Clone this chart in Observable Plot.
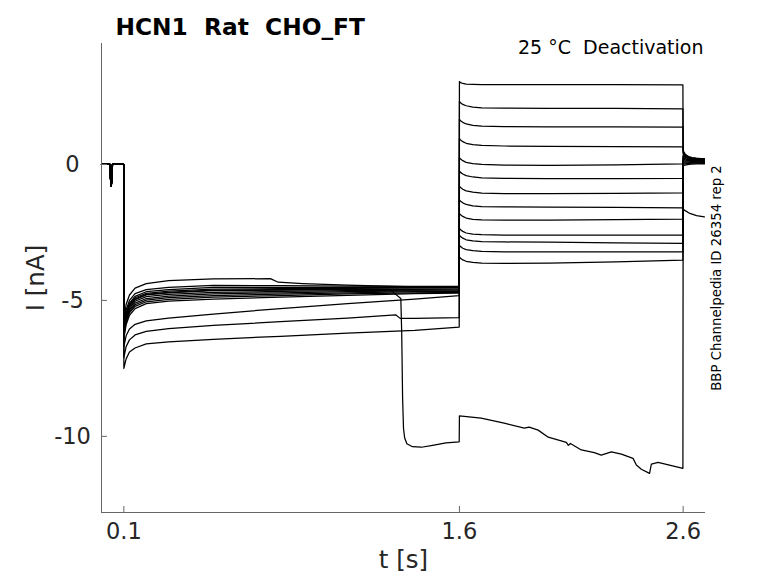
<!DOCTYPE html>
<html><head><meta charset="utf-8">
<script src="https://cdn.jsdelivr.net/npm/d3@7"></script>
<script src="https://cdn.jsdelivr.net/npm/@observablehq/plot@0.6"></script>
<style>
body{margin:0;background:#fff}
svg text{white-space:pre}
</style>
</head><body><div id="chart"></div>
<script>
// ---- axes / labels ----
const xTicks = [0.1, 1.6, 2.6];
const yTicks = [0, -5, -10];
const xDomain = [0, 2.7];
const yDomain = [-12.8, 4.45];
const titleText = "HCN1  Rat  CHO_FT";
const condText = "25 °C  Deactivation";
const idText = "BBP Channelpedia ID 26354 rep 2";

// ---- holding segment (shared by all sweeps) ----
const holdT = [0, 0.038, 0.040, 0.0435, 0.047, 0.049, 0.0999];
const holdI = [0, 0, -0.5, -0.8, -0.5, 0, 0];

// ---- first step (0.1 s .. 1.6 s), regular sweeps ----
const step1T = [0.1, 0.11, 0.125, 0.15, 0.2, 0.3, 0.5, 0.8, 1.1, 1.4, 1.599];
const c1 = [-5.9,-5.35,-5.0,-4.75,-4.6,-4.52,-4.45,-4.46,-4.47,-4.48,-4.48];
const c2 = [-6.0,-5.45,-5.1,-4.85,-4.68,-4.6,-4.52,-4.52,-4.52,-4.52,-4.52];
const c3 = [-6.05,-5.5,-5.15,-4.9,-4.74,-4.66,-4.58,-4.57,-4.56,-4.55,-4.55];
const c4 = [-6.1,-5.58,-5.22,-4.97,-4.8,-4.72,-4.64,-4.62,-4.6,-4.59,-4.58];
const c5 = [-6.15,-5.62,-5.28,-5.03,-4.86,-4.78,-4.7,-4.67,-4.64,-4.62,-4.61];
const c6 = [-6.2,-5.7,-5.35,-5.1,-4.93,-4.84,-4.76,-4.72,-4.68,-4.65,-4.64];
const c7 = [-6.25,-5.75,-5.4,-5.16,-4.99,-4.9,-4.82,-4.77,-4.72,-4.68,-4.67];
const c8 = [-6.3,-5.8,-5.46,-5.22,-5.05,-4.96,-4.88,-4.82,-4.76,-4.72,-4.7];
const c9 = [-6.4,-5.9,-5.55,-5.3,-5.12,-5.03,-4.95,-4.88,-4.81,-4.75,-4.73];
const low1 = [-6.7,-6.3,-6.05,-5.88,-5.75,-5.65,-5.5,-5.3,-5.12,-4.95,-4.82];
const low3 = [-7.5,-7.15,-6.9,-6.75,-6.6,-6.52,-6.43,-6.32,-6.2,-6.1,-5.98];

// first step, sweeps with their own events
const topT = [0.1,0.11,0.125,0.15,0.2,0.3,0.5,0.755,0.79,0.9,1.1,1.4,1.599];
const topI = [-5.75,-5.15,-4.8,-4.55,-4.38,-4.27,-4.21,-4.2,-4.33,-4.38,-4.44,-4.5,-4.52];
const kinkT = [0.1,0.11,0.125,0.15,0.2,0.3,0.5,0.8,1.1,1.315,1.335,1.4,1.599];
const kinkI = [-7.1,-6.7,-6.45,-6.27,-6.14,-6.04,-5.92,-5.78,-5.65,-5.53,-5.66,-5.66,-5.63];
const dropT = [0.1,0.11,0.125,0.15,0.2,0.3,0.5,0.8,1.1,1.29,1.31,1.338,1.342,1.346,1.35,1.355,1.365,1.39,1.43,1.48,1.54,1.599];
const dropI = [-6.1,-5.56,-5.2,-4.95,-4.78,-4.7,-4.62,-4.6,-4.58,-4.6,-4.74,-4.93,-6.2,-8.6,-9.7,-10.05,-10.27,-10.38,-10.4,-10.33,-10.24,-10.2];

// ---- second step (1.6 s .. 2.6 s) ----
const step2T = [1.6, 1.605, 1.615, 1.63, 1.66, 1.7, 1.8, 2.0, 2.3, 2.599];
const s1 = [3.05, 3.01, 2.98, 2.96, 2.95, 2.94, 2.94, 2.94, 2.94, 2.93];
const s2 = [2.32, 2.27, 2.21, 2.16, 2.11, 2.08, 2.07, 2.06, 2.06, 2.05];
const s3 = [1.66, 1.61, 1.55, 1.49, 1.44, 1.41, 1.39, 1.38, 1.38, 1.37];
const s4 = [0.95, 0.9, 0.84, 0.78, 0.73, 0.70, 0.68, 0.67, 0.66, 0.65];
const s5 = [0.25, 0.2, 0.14, 0.08, 0.03, 0.0, -0.02, -0.03, -0.01, 0.02];
const s6 = [-0.24, -0.29, -0.35, -0.41, -0.46, -0.49, -0.51, -0.52, -0.52, -0.51];
const s7 = [-0.8, -0.85, -0.91, -0.97, -1.02, -1.05, -1.07, -1.07, -1.06, -1.04];
const s8 = [-1.3, -1.35, -1.41, -1.47, -1.52, -1.55, -1.56, -1.57, -1.58, -1.6];
const s9 = [-1.8, -1.85, -1.91, -1.97, -2.02, -2.04, -2.05, -2.05, -2.03, -2.01];
const s10 = [-2.35, -2.4, -2.46, -2.52, -2.56, -2.58, -2.6, -2.6, -2.6, -2.6];
const s11 = [-2.6, -2.65, -2.71, -2.77, -2.81, -2.84, -2.85, -2.86, -2.88, -2.9];
const s12 = [-2.97, -3.02, -3.08, -3.13, -3.17, -3.2, -3.21, -3.21, -3.21, -3.21];
const s13 = [-3.4, -3.45, -3.51, -3.56, -3.6, -3.63, -3.64, -3.63, -3.58, -3.52];
const drop2T = [1.6,1.697,1.8,1.89,1.912,1.952,1.997,2.078,2.087,2.096,2.145,2.203,2.234,2.279,2.324,2.376,2.391,2.413,2.45,2.458,2.488,2.599];
const drop2I = [-9.25,-9.33,-9.51,-9.7,-9.66,-9.77,-10.03,-10.22,-10.33,-10.26,-10.5,-10.6,-10.69,-10.57,-10.65,-10.81,-11.05,-11.21,-11.36,-11.02,-10.96,-11.18];

// ---- tail after 2.6 s ----
const tailT = [2.6, 2.603, 2.608, 2.615, 2.625, 2.64, 2.66, 2.68, 2.695];
const t1 = [0.55, 0.47, 0.4, 0.34, 0.29, 0.25, 0.23, 0.22, 0.22];
const t2 = [0.5, 0.43, 0.37, 0.32, 0.27, 0.24, 0.22, 0.21, 0.2];
const t3 = [0.45, 0.39, 0.34, 0.29, 0.25, 0.22, 0.2, 0.19, 0.19];
const t4 = [0.4, 0.35, 0.3, 0.26, 0.23, 0.2, 0.19, 0.18, 0.17];
const t5 = [0.35, 0.31, 0.27, 0.24, 0.21, 0.19, 0.17, 0.16, 0.16];
const t6 = [0.3, 0.27, 0.24, 0.21, 0.19, 0.17, 0.16, 0.15, 0.14];
const t7 = [0.25, 0.23, 0.21, 0.19, 0.17, 0.15, 0.14, 0.13, 0.13];
const t8 = [0.2, 0.19, 0.17, 0.16, 0.15, 0.13, 0.12, 0.12, 0.11];
const t9 = [0.15, 0.14, 0.13, 0.13, 0.12, 0.11, 0.1, 0.1, 0.1];
const t10 = [0.1, 0.1, 0.1, 0.1, 0.09, 0.09, 0.09, 0.08, 0.08];
const t11 = [0.05, 0.05, 0.06, 0.06, 0.06, 0.07, 0.07, 0.06, 0.06];
const t12 = [0.0, 0.01, 0.02, 0.03, 0.04, 0.05, 0.05, 0.05, 0.04];
const t13 = [-0.04, -0.03, -0.02, -0.01, 0.0, 0.01, 0.02, 0.02, 0.02];
const drop3T = [2.6, 2.63, 2.66, 2.695];
const drop3I = [-1.65, -1.8, -1.88, -1.93];

// ---- assemble sweeps ----
const sweeps = [
  [[topT, topI], [step2T, s1], [tailT, t1]],
  [[step1T, c1], [step2T, s2], [tailT, t2]],
  [[step1T, c2], [step2T, s3], [tailT, t3]],
  [[step1T, c3], [step2T, s4], [tailT, t4]],
  [[step1T, c4], [step2T, s5], [tailT, t5]],
  [[step1T, c5], [step2T, s6], [tailT, t6]],
  [[step1T, c6], [step2T, s7], [tailT, t7]],
  [[step1T, c7], [step2T, s8], [tailT, t8]],
  [[step1T, c8], [step2T, s9], [tailT, t9]],
  [[step1T, c9], [step2T, s10], [tailT, t10]],
  [[step1T, low1], [step2T, s11], [tailT, t11]],
  [[kinkT, kinkI], [step2T, s12], [tailT, t12]],
  [[step1T, low3], [step2T, s13], [tailT, t13]],
  [[dropT, dropI], [drop2T, drop2I], [drop3T, drop3I]]
];
const points = [];
sweeps.forEach((segs, k) => {
  [[holdT, holdI], ...segs].forEach(([ts, vs]) => {
    ts.forEach((t, i) => points.push({sweep: k, t, I: vs[i]}));
  });
});

const frameW = 778 - 101 - 73, frameH = 583 - 43 - 71;
const axisColor = "#666";
const textColor = "#262626";

const chart = Plot.plot({
  width: 778, height: 583,
  marginLeft: 101, marginRight: 73, marginTop: 43, marginBottom: 71,
  x: {domain: xDomain, axis: null},
  y: {domain: yDomain, axis: null},
  style: {fontFamily: "DejaVu Sans", background: "white", color: textColor},
  marks: [
    Plot.line(points, {x: "t", y: "I", z: "sweep", stroke: "#000", strokeWidth: 1.25}),
    Plot.ruleX([xDomain[0]], {stroke: axisColor}),
    Plot.ruleY([yDomain[0]], {stroke: axisColor}),
    Plot.tickY(yTicks, {y: d => d, stroke: axisColor, insetRight: frameW - 6}),
    Plot.tickX(xTicks, {x: d => d, stroke: axisColor, insetTop: frameH - 6}),
    Plot.text(yTicks, {y: d => d, text: d => String(d), frameAnchor: "left", dx: -29, textAnchor: "middle", fontSize: 22.5}),
    Plot.text(xTicks, {x: d => d, text: d => String(d), frameAnchor: "bottom", dy: 26, textAnchor: "middle", fontSize: 22.5}),
    Plot.text(["t [s]"], {text: d => d, frameAnchor: "bottom", dy: 55, textAnchor: "middle", fontSize: 24.5}),
    Plot.text(["I [nA]"], {text: d => d, frameAnchor: "left", dx: -65, rotate: -90, textAnchor: "middle", fontSize: 24.5}),
    Plot.text([titleText], {text: d => d, frameAnchor: "top-left", dx: 14, dy: -25, textAnchor: "start", fontWeight: "bold", fontSize: 23.3, fill: "#000"}),
    Plot.text([condText], {text: d => d, frameAnchor: "top-right", dx: -2, dy: -3, textAnchor: "end", fontSize: 19, fill: "#000"}),
    Plot.text([idText], {text: d => d, frameAnchor: "right", dx: 11, rotate: -90, textAnchor: "middle", fontSize: 13.3, fill: "#000"})
  ]
});
document.getElementById("chart").appendChild(chart);
</script>
</body></html>
